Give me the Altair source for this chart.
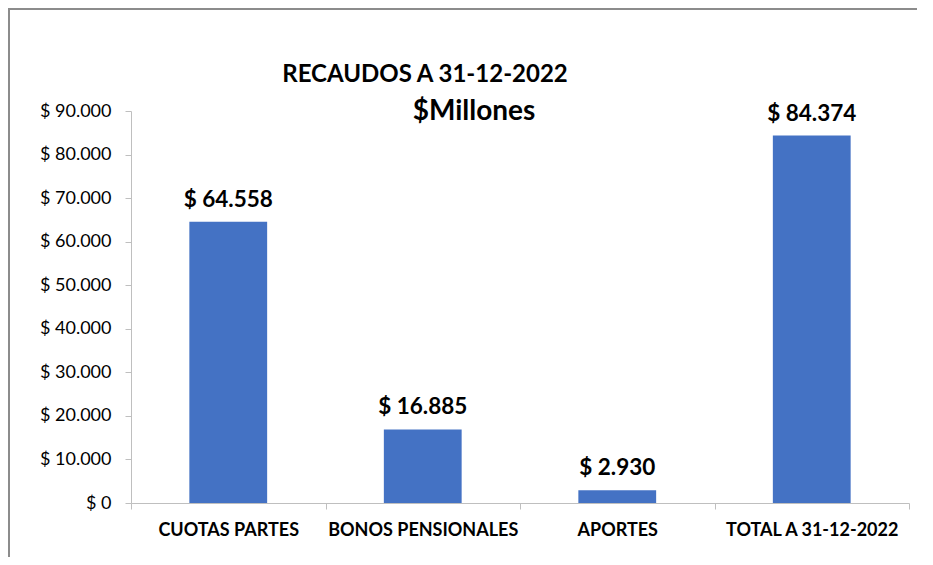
import altair as alt
import pandas as pd

categories = ["CUOTAS PARTES", "BONOS PENSIONALES", "APORTES", "TOTAL A 31-12-2022"]
values = [64558, 16885, 2930, 84374]
y_ticks = [0, 10000, 20000, 30000, 40000, 50000, 60000, 70000, 80000, 90000]
title_line1 = "RECAUDOS A 31-12-2022"
title_line2 = "$Millones"

df = pd.DataFrame({"cat": categories, "val": values})

FONT = "Lato"
W, H = 778, 392

x_enc = alt.X("cat:N", sort=categories,
              scale=alt.Scale(paddingInner=0, paddingOuter=0),
              axis=alt.Axis(title=None, labelAngle=0, labelFontWeight="bold",
                            labelFontSize=18, labelColor="#000000", labelPadding=12,
                            labelLimit=400,
                            tickBand="extent", tickSize=6, tickColor="#bfbfbf",
                            domainColor="#bfbfbf", labelFont=FONT))
y_scale = alt.Scale(domain=[0, 90000])

base = alt.Chart(df)

bars = base.mark_bar(color="#4472C4", width=alt.RelativeBandSize(0.4)).encode(
    x=x_enc,
    y=alt.Y("val:Q", scale=y_scale,
            axis=alt.Axis(title=None, values=y_ticks, grid=False, tickSize=6,
                          tickColor="#bfbfbf", domainColor="#bfbfbf",
                          labelFontSize=18, labelColor="#000000", labelPadding=14,
                          labelFont=FONT,
                          labelExpr='"$ " + replace(format(datum.value, ",.0f"), ",", ".")')),
)

labels = base.transform_calculate(
    lbl='"$ " + replace(format(datum.val, ",.0f"), ",", ".")'
).mark_text(fontSize=22.5, fontWeight="bold", font=FONT, color="#000000",
            baseline="alphabetic", dy=-15).encode(
    x=alt.X("cat:N", sort=categories),
    y=alt.Y("val:Q", scale=y_scale),
    text="lbl:N",
)

t1 = alt.Chart(pd.DataFrame({"t": [title_line1]})).mark_text(
    fontSize=24, fontWeight="bold", font=FONT, color="#000000", baseline="alphabetic"
).encode(x=alt.value(294), y=alt.value(-29), text="t:N")

t2 = alt.Chart(pd.DataFrame({"t": [title_line2]})).mark_text(
    fontSize=28, fontWeight="bold", font=FONT, color="#000000", baseline="alphabetic"
).encode(x=alt.value(343), y=alt.value(9), text="t:N")

frame_left = alt.Chart(pd.DataFrame({"a": [0]})).mark_rule(color="#8c8c8c", strokeWidth=2).encode(
    x=alt.value(-122), y=alt.value(-103), y2=alt.value(454))
frame_top = alt.Chart(pd.DataFrame({"a": [0]})).mark_rule(color="#8c8c8c", strokeWidth=2).encode(
    x=alt.value(-123), x2=alt.value(790), y=alt.value(-102))

chart = alt.layer(bars, labels, t1, t2, frame_left, frame_top).properties(
    width=W, height=H,
    autosize=alt.AutoSizeParams(type="none"),
    padding={"left": 123, "top": 103, "right": 8, "bottom": 54},
    background="white",
).configure_view(strokeWidth=0, stroke="transparent")

chart.save("out.html", embed_options={"renderer": "svg", "actions": False})
